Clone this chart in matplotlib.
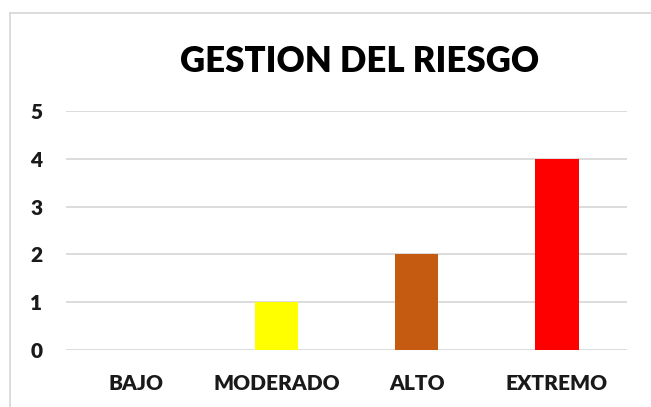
import matplotlib.pyplot as plt
from matplotlib.lines import Line2D

categories = ["BAJO", "MODERADO", "ALTO", "EXTREMO"]
values = [0, 1, 2, 4]
colors = ["#00B050", "#FFFF00", "#C55A11", "#FF0000"]
yticks = [0, 1, 2, 3, 4, 5]

plt.rcParams['font.family'] = ['Lato', 'DejaVu Sans']

fig = plt.figure(figsize=(6.51, 4.07), dpi=100)
ax = fig.add_axes([66 / 651, 1 - 350 / 407, 561 / 651, 239 / 407])

x = list(range(len(categories)))
ax.bar(x, values, width=0.31, color=colors, zorder=3)

ax.set_xlim(-0.5, len(categories) - 0.5)
ax.set_ylim(0, 5)
ax.set_yticks(yticks)
ax.set_xticks(x)
ax.set_xticklabels(categories, fontsize=15, fontweight='heavy', color='#1a1a1a')
ax.set_yticklabels([str(t) for t in yticks], fontsize=15, fontweight='heavy', color='#1a1a1a')
ax.tick_params(axis='y', length=0, pad=17)
ax.tick_params(axis='x', length=0, pad=17)
ax.grid(axis='y', color='#D9D9D9', linewidth=1.3, zorder=0)
for s in ax.spines.values():
    s.set_visible(False)

fig.text(360 / 651, 1 - 62 / 407, "GESTION DEL RIESGO", ha='center', va='center',
         fontsize=25, fontweight='heavy', color='black')

# chart frame (top and left edges visible)
fig.add_artist(Line2D([10 / 651, 10 / 651], [0, 1 - 13 / 407], color='#D9D9D9', linewidth=1.3))
fig.add_artist(Line2D([10 / 651, 1], [1 - 13 / 407, 1 - 13 / 407], color='#D9D9D9', linewidth=1.3))

fig.savefig("out.png", dpi=100)
